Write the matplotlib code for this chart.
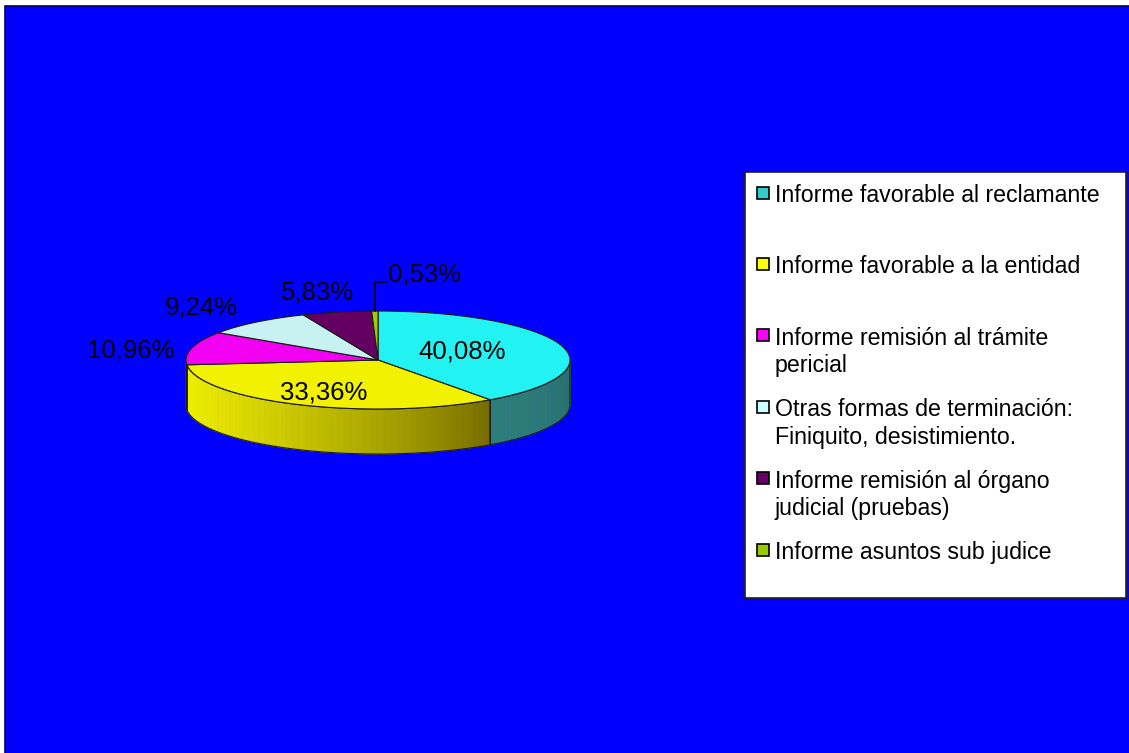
import numpy as np
import matplotlib.pyplot as plt
from matplotlib.colors import to_rgb
from matplotlib.patches import Polygon, Rectangle

plt.rcParams['font.family'] = ['Liberation Sans', 'DejaVu Sans']

# data
categories = ['Informe favorable al reclamante',
              'Informe favorable a la entidad',
              'Informe remisión al trámite\npericial',
              'Otras formas de terminación:\nFiniquito, desistimiento.',
              'Informe remisión al órgano\njudicial (pruebas)',
              'Informe asuntos sub judice']
values = [40.08, 33.36, 10.96, 9.24, 5.83, 0.53]

top_colors = ['#22F2F2', '#F2F200', '#F200F2', '#C8F2F2', '#640062', '#A8C800']
legend_colors = ['#33CCCC', '#FFFF00', '#FF00FF', '#CCFFFF', '#660066', '#99CC00']
side_light = ['#2E7E7C', '#F0F000', '#C000C0', '#A0C0C0', '#500050', '#80A000']
side_dark = ['#266C6A', '#786E00', '#A000A0', '#90B0B0', '#400040', '#708800']

# layout (pixels)
W, H = 1129, 753
cx, cy, rx, ry, depth = 378, 360, 192, 49, 45
label_r = [0.46, 0.69, 1.33, 1.45, 1.47]
label_dy = [-2, 2, 6, 2, 3]

fig = plt.figure(figsize=(W / 100, H / 100), dpi=100, facecolor='white')
ax = fig.add_axes([0, 0, 1, 1])
ax.set_xlim(0, W)
ax.set_ylim(H, 0)
ax.axis('off')

ax.add_patch(Rectangle((5, 6), W, H, facecolor='#0000FF',
                       edgecolor='#000060', lw=1.2, zorder=0))


def pt(theta, r=1.0, dz=0.0):
    t = np.radians(theta)
    return cx + rx * r * np.sin(t), cy - ry * r * np.cos(t) + dz


def mix(c1, c2, t):
    a, b = np.array(to_rgb(c1)), np.array(to_rgb(c2))
    return tuple(a + (b - a) * t)


fracs = np.array(values) / sum(values)
edges = np.concatenate([[0], np.cumsum(fracs) * 360])
edge_col = '#1A1A1A'

# front side walls
for i in range(len(values)):
    a0, a1 = edges[i], edges[i + 1]
    lo, hi = max(a0, 90), min(a1, 270)
    if hi <= lo:
        continue
    n = 60
    th = np.linspace(lo, hi, n + 1)
    for k in range(n):
        tt = np.linspace(th[k], th[k + 1], 4)
        xs, ys = pt(tt)
        xb, yb = pt(tt[::-1], dz=depth)
        s = (hi - th[k]) / (hi - lo)
        col = mix(side_light[i], side_dark[i], s ** 1.6)
        ax.add_patch(Polygon(np.column_stack([np.r_[xs, xb], np.r_[ys, yb]]),
                             facecolor=col, edgecolor=col, lw=0.6, zorder=2))
    tt = np.linspace(lo, hi, 100)
    xs, ys = pt(tt)
    xb, yb = pt(tt[::-1], dz=depth)
    ax.add_patch(Polygon(np.column_stack([np.r_[xs, xb], np.r_[ys, yb]]),
                         facecolor='none', edgecolor=edge_col, lw=0.8, zorder=3))

# top faces
for i in range(len(values)):
    tt = np.linspace(edges[i], edges[i + 1], 120)
    xs, ys = pt(tt)
    poly = np.column_stack([np.r_[cx, xs], np.r_[cy, ys]])
    ax.add_patch(Polygon(poly, facecolor=top_colors[i], edgecolor=edge_col,
                         lw=0.8, zorder=4))

# labels
pct = [f'{v:.2f}%'.replace('.', ',') for v in values]
for i in range(len(values) - 1):
    mid = (edges[i] + edges[i + 1]) / 2
    x, y = pt(mid, label_r[i])
    ax.text(x, y + label_dy[i], pct[i], fontsize=18.5, ha='center', va='center',
            color='black', zorder=6)

# small slice with leader line
mid = (edges[-2] + edges[-1]) / 2
x0, y0 = pt(mid)
ax.plot([x0, x0, x0 + 12], [y0, y0 - 29, y0 - 29], color='black', lw=1.2, zorder=6)
ax.text(x0 + 13, y0 - 37, pct[-1], fontsize=18.5, ha='left', va='center',
        color='black', zorder=6)

# legend box
ax.add_patch(Rectangle((745, 172), 381, 426, facecolor='white',
                       edgecolor='#202020', lw=1.2, zorder=5))
step = 71.4
for i, lab in enumerate(categories):
    yc = 193 + i * step
    ax.add_patch(Rectangle((757, yc - 6.5), 12, 12, facecolor=legend_colors[i],
                           edgecolor='black', lw=1.2, zorder=6))
    ax.text(775, yc - 9, lab, fontsize=16.7, ha='left', va='top',
            linespacing=1.25, color='black', zorder=6)

fig.savefig('out.png', dpi=100, facecolor='white')
